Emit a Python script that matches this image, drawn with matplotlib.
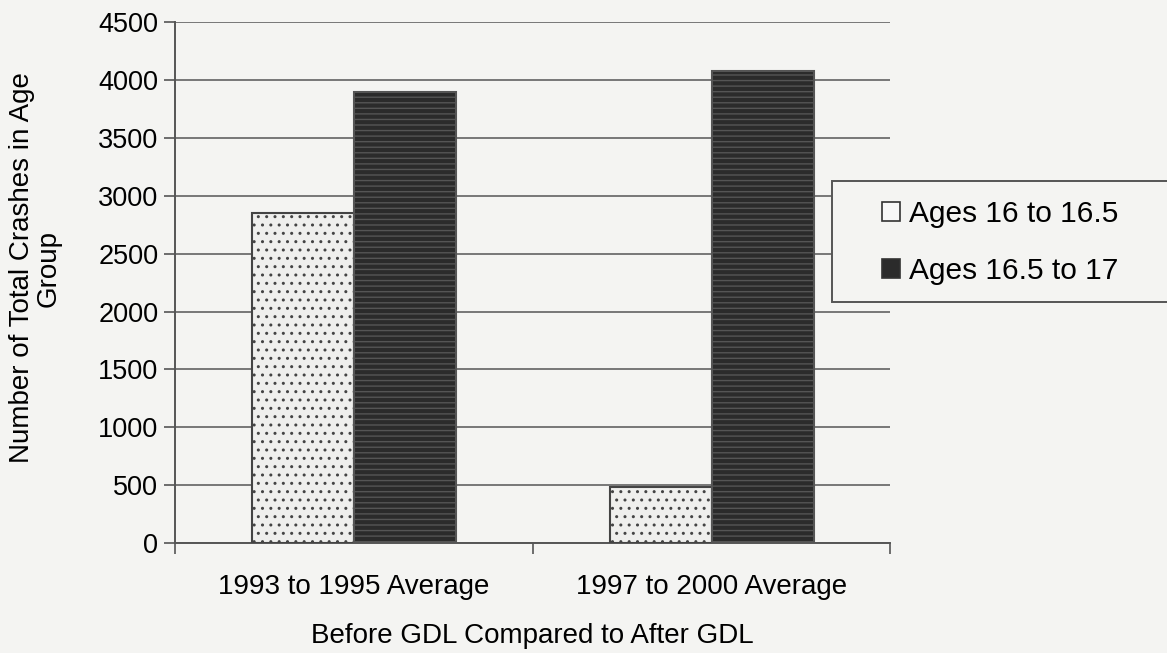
import numpy as np
import matplotlib.pyplot as plt
from matplotlib.patches import Patch, Rectangle

plt.rcParams['font.family'] = ['Liberation Sans', 'DejaVu Sans']
plt.rcParams['hatch.linewidth'] = 1.0

periods = ['1993 to 1995 Average', '1997 to 2000 Average']
groups = ['Ages 16 to 16.5', 'Ages 16.5 to 17']
young = [2850, 480]
older = [3900, 4080]

bg = '#f4f4f2'
fig = plt.figure(figsize=(11.67, 6.53), dpi=100, facecolor=bg)
ax = fig.add_axes([0.150, 0.1685, 0.613, 0.7975], facecolor=bg)

x = np.arange(len(periods))
w = 0.285
plt.rcParams['hatch.color'] = '#dcdcdc'
ax.bar(x - w / 2, young, w, color='#efefed', edgecolor='#444444',
       linewidth=1.5, hatch='..', zorder=3)
plt.rcParams['hatch.color'] = '#6e6e6e'
ax.bar(x + w / 2, older, w, color='#2b2b2b', edgecolor='#555555',
       linewidth=1.5, hatch='---', zorder=3)

ax.set_ylim(0, 4500)
ax.set_yticks(np.arange(0, 4501, 500))
ax.set_xlim(-0.5, 1.5)
ax.yaxis.grid(True, color='#777777', linewidth=1.4, zorder=0)
ax.set_axisbelow(True)

ax.set_xticks(x)
ax.set_xticklabels(periods)
ax.set_xticks([-0.5, 0.5, 1.5], minor=True)
ax.tick_params(axis='x', which='major', length=0, pad=22, labelsize=20)
ax.tick_params(axis='x', which='minor', length=8, width=1.2, color='#555555')
ax.tick_params(axis='y', length=8, width=1.2, color='#555555', labelsize=19.5, pad=4)

for s in ['top', 'right']:
    ax.spines[s].set_visible(False)
for s in ['left', 'bottom']:
    ax.spines[s].set_color('#555555')
    ax.spines[s].set_linewidth(1.4)

ax.set_ylabel('Number of Total Crashes in Age\nGroup', fontsize=20, linespacing=1.05)
ax.yaxis.set_label_coords(-0.158, 0.528)
ax.set_xlabel('Before GDL Compared to After GDL', fontsize=20, labelpad=17)

# legend box runs off the right edge of the figure
fig.patches.append(Rectangle((0.713, 0.5375), 0.32, 0.1853, transform=fig.transFigure,
                             facecolor=bg, edgecolor='#555555', linewidth=1.4, zorder=1))
handles = [Patch(facecolor='#f8f8f8', edgecolor='#333333', linewidth=1.2),
           Patch(facecolor='#2b2b2b', edgecolor='#333333', linewidth=1.2)]
fig.legend(handles, groups, loc='upper left', bbox_to_anchor=(0.7555, 0.693),
           fontsize=21.5, frameon=False, borderpad=0, borderaxespad=0,
           handlelength=0.6, handleheight=0.6, handletextpad=0.3,
           labelspacing=0.95)

fig.savefig('out.png', dpi=100, facecolor=bg)
